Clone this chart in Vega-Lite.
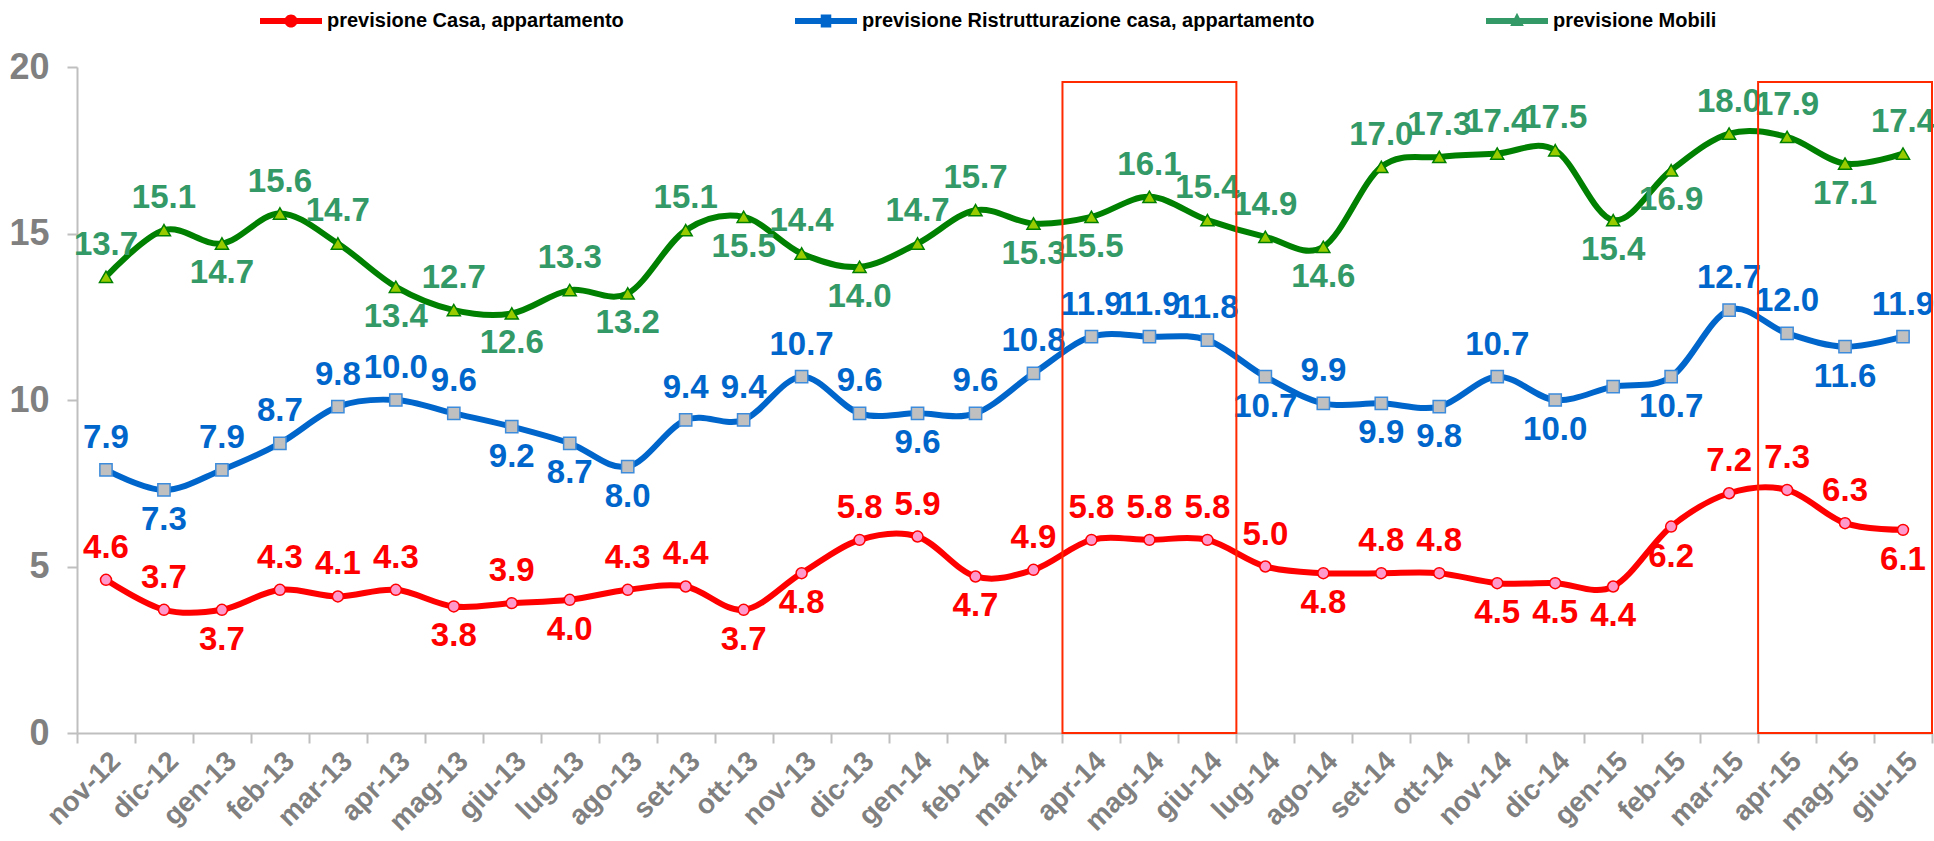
{
  "$schema": "https://vega.github.io/schema/vega-lite/v6.json",
  "width": 1855,
  "height": 666,
  "autosize": {"type": "none"},
  "padding": {"left": 77, "top": 67, "right": 2, "bottom": 108},
  "background": "white",
  "config": {
    "view": {"stroke": null},
    "font": "Liberation Sans"
  },
  "datasets": {
    "main": [
      {"month": "nov-12", "series": "previsione Casa, appartamento", "value": 4.6},
      {"month": "dic-12", "series": "previsione Casa, appartamento", "value": 3.7},
      {"month": "gen-13", "series": "previsione Casa, appartamento", "value": 3.7},
      {"month": "feb-13", "series": "previsione Casa, appartamento", "value": 4.3},
      {"month": "mar-13", "series": "previsione Casa, appartamento", "value": 4.1},
      {"month": "apr-13", "series": "previsione Casa, appartamento", "value": 4.3},
      {"month": "mag-13", "series": "previsione Casa, appartamento", "value": 3.8},
      {"month": "giu-13", "series": "previsione Casa, appartamento", "value": 3.9},
      {"month": "lug-13", "series": "previsione Casa, appartamento", "value": 4.0},
      {"month": "ago-13", "series": "previsione Casa, appartamento", "value": 4.3},
      {"month": "set-13", "series": "previsione Casa, appartamento", "value": 4.4},
      {"month": "ott-13", "series": "previsione Casa, appartamento", "value": 3.7},
      {"month": "nov-13", "series": "previsione Casa, appartamento", "value": 4.8},
      {"month": "dic-13", "series": "previsione Casa, appartamento", "value": 5.8},
      {"month": "gen-14", "series": "previsione Casa, appartamento", "value": 5.9},
      {"month": "feb-14", "series": "previsione Casa, appartamento", "value": 4.7},
      {"month": "mar-14", "series": "previsione Casa, appartamento", "value": 4.9},
      {"month": "apr-14", "series": "previsione Casa, appartamento", "value": 5.8},
      {"month": "mag-14", "series": "previsione Casa, appartamento", "value": 5.8},
      {"month": "giu-14", "series": "previsione Casa, appartamento", "value": 5.8},
      {"month": "lug-14", "series": "previsione Casa, appartamento", "value": 5.0},
      {"month": "ago-14", "series": "previsione Casa, appartamento", "value": 4.8},
      {"month": "set-14", "series": "previsione Casa, appartamento", "value": 4.8},
      {"month": "ott-14", "series": "previsione Casa, appartamento", "value": 4.8},
      {"month": "nov-14", "series": "previsione Casa, appartamento", "value": 4.5},
      {"month": "dic-14", "series": "previsione Casa, appartamento", "value": 4.5},
      {"month": "gen-15", "series": "previsione Casa, appartamento", "value": 4.4},
      {"month": "feb-15", "series": "previsione Casa, appartamento", "value": 6.2},
      {"month": "mar-15", "series": "previsione Casa, appartamento", "value": 7.2},
      {"month": "apr-15", "series": "previsione Casa, appartamento", "value": 7.3},
      {"month": "mag-15", "series": "previsione Casa, appartamento", "value": 6.3},
      {"month": "giu-15", "series": "previsione Casa, appartamento", "value": 6.1},
      {"month": "nov-12", "series": "previsione Ristrutturazione casa, appartamento", "value": 7.9},
      {"month": "dic-12", "series": "previsione Ristrutturazione casa, appartamento", "value": 7.3},
      {"month": "gen-13", "series": "previsione Ristrutturazione casa, appartamento", "value": 7.9},
      {"month": "feb-13", "series": "previsione Ristrutturazione casa, appartamento", "value": 8.7},
      {"month": "mar-13", "series": "previsione Ristrutturazione casa, appartamento", "value": 9.8},
      {"month": "apr-13", "series": "previsione Ristrutturazione casa, appartamento", "value": 10.0},
      {"month": "mag-13", "series": "previsione Ristrutturazione casa, appartamento", "value": 9.6},
      {"month": "giu-13", "series": "previsione Ristrutturazione casa, appartamento", "value": 9.2},
      {"month": "lug-13", "series": "previsione Ristrutturazione casa, appartamento", "value": 8.7},
      {"month": "ago-13", "series": "previsione Ristrutturazione casa, appartamento", "value": 8.0},
      {"month": "set-13", "series": "previsione Ristrutturazione casa, appartamento", "value": 9.4},
      {"month": "ott-13", "series": "previsione Ristrutturazione casa, appartamento", "value": 9.4},
      {"month": "nov-13", "series": "previsione Ristrutturazione casa, appartamento", "value": 10.7},
      {"month": "dic-13", "series": "previsione Ristrutturazione casa, appartamento", "value": 9.6},
      {"month": "gen-14", "series": "previsione Ristrutturazione casa, appartamento", "value": 9.6},
      {"month": "feb-14", "series": "previsione Ristrutturazione casa, appartamento", "value": 9.6},
      {"month": "mar-14", "series": "previsione Ristrutturazione casa, appartamento", "value": 10.8},
      {"month": "apr-14", "series": "previsione Ristrutturazione casa, appartamento", "value": 11.9},
      {"month": "mag-14", "series": "previsione Ristrutturazione casa, appartamento", "value": 11.9},
      {"month": "giu-14", "series": "previsione Ristrutturazione casa, appartamento", "value": 11.8},
      {"month": "lug-14", "series": "previsione Ristrutturazione casa, appartamento", "value": 10.7},
      {"month": "ago-14", "series": "previsione Ristrutturazione casa, appartamento", "value": 9.9},
      {"month": "set-14", "series": "previsione Ristrutturazione casa, appartamento", "value": 9.9},
      {"month": "ott-14", "series": "previsione Ristrutturazione casa, appartamento", "value": 9.8},
      {"month": "nov-14", "series": "previsione Ristrutturazione casa, appartamento", "value": 10.7},
      {"month": "dic-14", "series": "previsione Ristrutturazione casa, appartamento", "value": 10.0},
      {"month": "gen-15", "series": "previsione Ristrutturazione casa, appartamento", "value": 10.4},
      {"month": "feb-15", "series": "previsione Ristrutturazione casa, appartamento", "value": 10.7},
      {"month": "mar-15", "series": "previsione Ristrutturazione casa, appartamento", "value": 12.7},
      {"month": "apr-15", "series": "previsione Ristrutturazione casa, appartamento", "value": 12.0},
      {"month": "mag-15", "series": "previsione Ristrutturazione casa, appartamento", "value": 11.6},
      {"month": "giu-15", "series": "previsione Ristrutturazione casa, appartamento", "value": 11.9},
      {"month": "nov-12", "series": "previsione Mobili", "value": 13.7},
      {"month": "dic-12", "series": "previsione Mobili", "value": 15.1},
      {"month": "gen-13", "series": "previsione Mobili", "value": 14.7},
      {"month": "feb-13", "series": "previsione Mobili", "value": 15.6},
      {"month": "mar-13", "series": "previsione Mobili", "value": 14.7},
      {"month": "apr-13", "series": "previsione Mobili", "value": 13.4},
      {"month": "mag-13", "series": "previsione Mobili", "value": 12.7},
      {"month": "giu-13", "series": "previsione Mobili", "value": 12.6},
      {"month": "lug-13", "series": "previsione Mobili", "value": 13.3},
      {"month": "ago-13", "series": "previsione Mobili", "value": 13.2},
      {"month": "set-13", "series": "previsione Mobili", "value": 15.1},
      {"month": "ott-13", "series": "previsione Mobili", "value": 15.5},
      {"month": "nov-13", "series": "previsione Mobili", "value": 14.4},
      {"month": "dic-13", "series": "previsione Mobili", "value": 14.0},
      {"month": "gen-14", "series": "previsione Mobili", "value": 14.7},
      {"month": "feb-14", "series": "previsione Mobili", "value": 15.7},
      {"month": "mar-14", "series": "previsione Mobili", "value": 15.3},
      {"month": "apr-14", "series": "previsione Mobili", "value": 15.5},
      {"month": "mag-14", "series": "previsione Mobili", "value": 16.1},
      {"month": "giu-14", "series": "previsione Mobili", "value": 15.4},
      {"month": "lug-14", "series": "previsione Mobili", "value": 14.9},
      {"month": "ago-14", "series": "previsione Mobili", "value": 14.6},
      {"month": "set-14", "series": "previsione Mobili", "value": 17.0},
      {"month": "ott-14", "series": "previsione Mobili", "value": 17.3},
      {"month": "nov-14", "series": "previsione Mobili", "value": 17.4},
      {"month": "dic-14", "series": "previsione Mobili", "value": 17.5},
      {"month": "gen-15", "series": "previsione Mobili", "value": 15.4},
      {"month": "feb-15", "series": "previsione Mobili", "value": 16.9},
      {"month": "mar-15", "series": "previsione Mobili", "value": 18.0},
      {"month": "apr-15", "series": "previsione Mobili", "value": 17.9},
      {"month": "mag-15", "series": "previsione Mobili", "value": 17.1},
      {"month": "giu-15", "series": "previsione Mobili", "value": 17.4}
    ],
    "boxes": [
      {"start": "apr-14", "end": "giu-14"},
      {"start": "apr-15", "end": "giu-15"}
    ]
  },
  "data": {"name": "main"},
  "layer": [
    {
      "mark": {"type": "line", "interpolate": "cardinal", "strokeWidth": 6},
      "encoding": {
        "x": {"field": "month", "type": "nominal", "title": null,
          "scale": {"type": "band", "paddingInner": 0, "paddingOuter": 0, "domain": ["nov-12","dic-12","gen-13","feb-13","mar-13","apr-13","mag-13","giu-13","lug-13","ago-13","set-13","ott-13","nov-13","dic-13","gen-14","feb-14","mar-14","apr-14","mag-14","giu-14","lug-14","ago-14","set-14","ott-14","nov-14","dic-14","gen-15","feb-15","mar-15","apr-15","mag-15","giu-15"]},
          "axis": {"title": null, "labelAngle": -45, "labelAlign": "right", "labelBaseline": "top", "labelFontSize": 28, "labelFontWeight": "bold", "labelColor": "#808080", "domainColor": "#BFBFBF", "domainWidth": 2, "tickColor": "#BFBFBF", "tickWidth": 2, "tickSize": 10, "tickBand": "extent", "labelPadding": 4, "grid": false}},
        "y": {"field": "value", "type": "quantitative", "title": null,
          "scale": {"domain": [0, 20], "nice": false},
          "axis": {"title": null, "values": [0, 5, 10, 15, 20], "labelFontSize": 36, "labelFontWeight": "bold", "labelColor": "#808080", "domainColor": "#BFBFBF", "domainWidth": 2, "tickColor": "#BFBFBF", "tickWidth": 2, "tickSize": 10, "labelPadding": 18, "grid": false}},
        "color": {"field": "series", "type": "nominal",
          "legend": {"orient": "none", "legendX": 183, "legendY": -77, "direction": "horizontal", "columns": 3, "title": null, "labelFontSize": 20, "labelFontWeight": "bold", "labelColor": "#000000", "symbolSize": 3844, "labelOffset": 5, "columnPadding": 171, "labelLimit": 1000,
            "encode": {"symbols": {"update": {
              "shape": {"signal": "datum.value === 'previsione Casa, appartamento' ? 'M-1,-0.097H1V0.097H-1Z M-0.21,0A0.21,0.21 0 1,1 0.21,0A0.21,0.21 0 1,1 -0.21,0Z' : datum.value === 'previsione Mobili' ? 'M-1,-0.097H1V0.097H-1Z M0,-0.27L0.22,0.16H-0.22Z' : 'M-1,-0.097H1V0.097H-1Z M-0.17,-0.21H0.17V0.21H-0.17Z'"},
              "fill": {"signal": "datum.value === 'previsione Casa, appartamento' ? '#FF0000' : datum.value === 'previsione Mobili' ? '#008000' : '#0066CC'"},
              "stroke": {"value": "transparent"},
              "strokeWidth": {"value": 0},
              "opacity": {"value": 1}
            }}}},
          "scale": {"domain": ["previsione Casa, appartamento", "previsione Ristrutturazione casa, appartamento", "previsione Mobili"], "range": ["#FF0000", "#0066CC", "#008000"]}}
      }
    },
    {
      "transform": [{"filter": "datum.series === 'previsione Casa, appartamento'"}],
      "mark": {"type": "point", "shape": "circle", "filled": true, "fill": "#FF99CC", "stroke": "#FF0000", "strokeWidth": 1.5, "size": 120, "opacity": 1},
      "encoding": {
        "x": {"field": "month", "type": "nominal", "title": null},
        "y": {"field": "value", "type": "quantitative", "title": null}
      }
    },
    {
      "transform": [{"filter": "datum.series === 'previsione Ristrutturazione casa, appartamento'"}],
      "mark": {"type": "point", "shape": "square", "filled": true, "fill": "#C0C0C0", "stroke": "#3D8BDB", "strokeWidth": 1.5, "size": 150, "opacity": 1},
      "encoding": {
        "x": {"field": "month", "type": "nominal", "title": null},
        "y": {"field": "value", "type": "quantitative", "title": null}
      }
    },
    {
      "transform": [{"filter": "datum.series === 'previsione Mobili'"}],
      "mark": {"type": "point", "shape": "triangle-up", "filled": true, "fill": "#99CC00", "stroke": "#008000", "strokeWidth": 1.5, "size": 170, "opacity": 1},
      "encoding": {
        "x": {"field": "month", "type": "nominal", "title": null},
        "y": {"field": "value", "type": "quantitative", "title": null}
      }
    },
    {
      "transform": [{"filter": "!((datum.series==='previsione Casa, appartamento' && indexof(['gen-13','mag-13','lug-13','ott-13','nov-13','feb-14','ago-14','nov-14','dic-14','gen-15','feb-15','giu-15'],datum.month)>=0) || (datum.series==='previsione Ristrutturazione casa, appartamento' && indexof(['dic-12','giu-13','lug-13','ago-13','gen-14','lug-14','set-14','ott-14','dic-14','feb-15','mag-15','gen-15'],datum.month)>=0) || (datum.series==='previsione Mobili' && indexof(['gen-13','apr-13','giu-13','ago-13','ott-13','dic-13','mar-14','apr-14','ago-14','gen-15','feb-15','mag-15'],datum.month)>=0))"}],
      "mark": {"type": "text", "fontSize": 33, "fontWeight": "bold", "baseline": "alphabetic", "align": "center", "dy": -22},
      "encoding": {
        "x": {"field": "month", "type": "nominal", "title": null},
        "y": {"field": "value", "type": "quantitative", "title": null},
        "text": {"field": "value", "type": "quantitative", "format": ".1f"},
        "fill": {"field": "series", "type": "nominal", "legend": null, "scale": {"domain": ["previsione Casa, appartamento", "previsione Ristrutturazione casa, appartamento", "previsione Mobili"], "range": ["#FF0000", "#0066CC", "#339966"]}}
      }
    },
    {
      "transform": [{"filter": "(datum.series==='previsione Casa, appartamento' && indexof(['gen-13','mag-13','lug-13','ott-13','nov-13','feb-14','ago-14','nov-14','dic-14','gen-15','feb-15','giu-15'],datum.month)>=0) || (datum.series==='previsione Ristrutturazione casa, appartamento' && indexof(['dic-12','giu-13','lug-13','ago-13','gen-14','lug-14','set-14','ott-14','dic-14','feb-15','mag-15'],datum.month)>=0) || (datum.series==='previsione Mobili' && indexof(['gen-13','apr-13','giu-13','ago-13','ott-13','dic-13','mar-14','apr-14','ago-14','gen-15','feb-15','mag-15'],datum.month)>=0)"}],
      "mark": {"type": "text", "fontSize": 33, "fontWeight": "bold", "baseline": "alphabetic", "align": "center", "dy": 40},
      "encoding": {
        "x": {"field": "month", "type": "nominal", "title": null},
        "y": {"field": "value", "type": "quantitative", "title": null},
        "text": {"field": "value", "type": "quantitative", "format": ".1f"},
        "fill": {"field": "series", "type": "nominal", "legend": null}
      }
    },
    {
      "data": {"name": "boxes"},
      "mark": {"type": "rect", "fill": "transparent", "stroke": "#FF2A00", "strokeWidth": 2},
      "encoding": {
        "x": {"field": "start", "type": "nominal", "bandPosition": 0, "title": null},
        "x2": {"field": "end", "bandPosition": 1},
        "y": {"datum": 0, "type": "quantitative"},
        "y2": {"datum": 19.55}
      }
    }
  ]
}
